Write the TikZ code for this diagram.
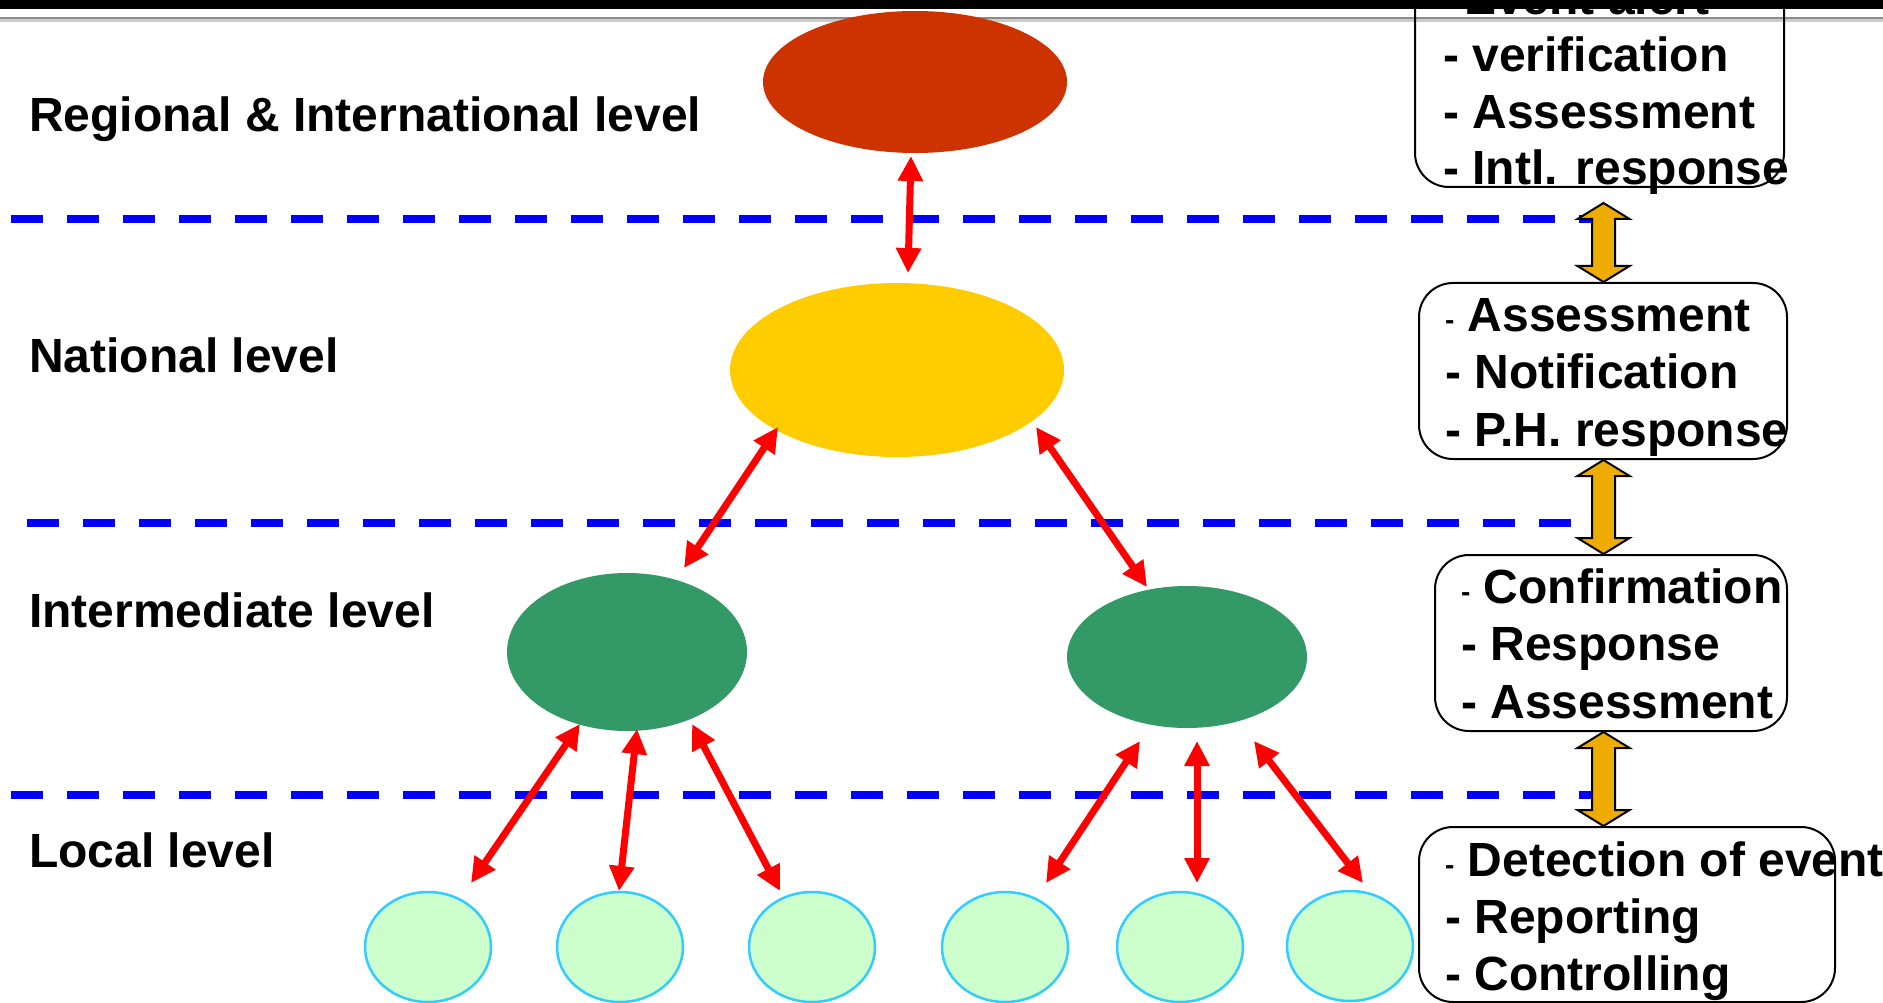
\documentclass[tikz,border=0pt]{standalone}
\usepackage{fontspec}
\setmainfont{Liberation Sans}
\usetikzlibrary{shapes.geometric,arrows.meta}
\definecolor{regred}{RGB}{204,51,0}
\definecolor{natyel}{RGB}{255,204,0}
\definecolor{midgreen}{RGB}{51,153,102}
\definecolor{locfill}{RGB}{204,255,204}
\definecolor{locdraw}{RGB}{51,204,255}
\definecolor{dashblue}{RGB}{0,0,255}
\definecolor{dblorange}{RGB}{238,172,0}
\newcommand\smalldash{{\fontsize{28}{28}\selectfont\raisebox{2pt}{-}}}
\newcommand\orangearrow[3]{%
  \filldraw[fill=dblorange,draw=black,line width=2pt,line join=miter]
    (#1,#2) -- ++(26,16) -- ++(-14.5,0) -- (#1+11.5,#3-16) -- ++(14.5,0)
    -- (#1,#3) -- ++(-26,-16) -- ++(14.5,0) -- (#1-11.5,#2+16) -- ++(-14.5,0) -- cycle;}
\begin{document}
\begin{tikzpicture}[x=1pt,y=-1pt,
  lbl/.style={anchor=base west,inner sep=0pt,font=\fontsize{48}{57}\selectfont\bfseries},
  blob/.style={ellipse,inner sep=0pt,draw=none},
  locblob/.style={ellipse,inner sep=0pt,fill=locfill,draw=locdraw,line width=2.5pt,
    minimum width=126pt,minimum height=110pt},
  infobox/.style={draw=black,line width=2pt,rounded corners=34pt,inner sep=0pt},
  levelline/.style={dashblue,line width=7.5pt,dash pattern=on 32pt off 24pt},
  redarrow/.style={red,line width=7pt,{Triangle[length=25pt,width=24pt]}-{Triangle[length=25pt,width=24pt]}}
]
\useasboundingbox (0,0) rectangle (1883,1003);
\clip (0,0) rectangle (1883,1003);

% slide header shadow line
\fill[black!45] (0,17) rectangle (1883,19.5);
\fill[black!20] (0,19.5) rectangle (1883,22);

% level separators
\draw[levelline] (11,219) -- (1611,219);
\draw[levelline] (27,523) -- (1571,523);
\draw[levelline] (11,795) -- (1611,795);

% level labels
\node[lbl] (lreg) at (29,132) {Regional \& International level};
\node[lbl] (lnat) at (29,372) {National level};
\node[lbl] (lint) at (29,627) {Intermediate level};
\node[lbl] (lloc) at (29,867) {Local level};

% ellipses
\node[blob,fill=regred,minimum width=304pt,minimum height=142pt] (reg) at (915,82) {};
\node[blob,fill=natyel,minimum width=334pt,minimum height=174pt] (nat) at (897,370) {};
\node[blob,fill=midgreen,minimum width=240pt,minimum height=158pt] (int1) at (627,652) {};
\node[blob,fill=midgreen,minimum width=240pt,minimum height=142pt] (int2) at (1187,657) {};
\node[locblob] (loc1) at (428,947) {};
\node[locblob] (loc2) at (620,947) {};
\node[locblob] (loc3) at (812,947) {};
\node[locblob] (loc4) at (1005,947) {};
\node[locblob] (loc5) at (1180,947) {};
\node[locblob] (loc6) at (1350,946) {};

% arrow end points
\coordinate (regS) at (911,156);   \coordinate (natN) at (908,273);
\coordinate (natSW) at (778,427);  \coordinate (int1N) at (684,568);
\coordinate (natSE) at (1036,427); \coordinate (int2N) at (1147,587);
\coordinate (i1a) at (580,724);    \coordinate (l1) at (471,883);
\coordinate (i1b) at (637,729);    \coordinate (l2) at (619,891);
\coordinate (i1c) at (692,724);    \coordinate (l3) at (780,891);
\coordinate (i2a) at (1140,741);   \coordinate (l4) at (1046,883);
\coordinate (i2b) at (1197,741);   \coordinate (l5) at (1197,883);
\coordinate (i2c) at (1254,741);   \coordinate (l6) at (1363,883);

\draw[redarrow] (regS) -- (natN);
\draw[redarrow] (natSW) -- (int1N);
\draw[redarrow] (natSE) -- (int2N);
\draw[redarrow] (i1a) -- (l1);
\draw[redarrow] (i1b) -- (l2);
\draw[redarrow] (i1c) -- (l3);
\draw[redarrow] (i2a) -- (l4);
\draw[redarrow] (i2b) -- (l5);
\draw[redarrow] (i2c) -- (l6);

% right boxes
\node[infobox,minimum width=369pt,minimum height=247pt] (box1) at (1599.5,63.5) {};
\node[infobox,minimum width=368pt,minimum height=176pt] (box2) at (1603,371) {};
\node[infobox,minimum width=352pt,minimum height=176pt] (box3) at (1611,643) {};
\node[infobox,minimum width=416pt,minimum height=175pt] (box4) at (1627,914.5) {};

\node[lbl] (t1a) at (1464,15) {Event alert};
\node[lbl] (t1b) at (1443,72) {- verification};
\node[lbl] (t1c) at (1443,129) {- Assessment};
\node[lbl] (t1d) at (1443,185) {- Intl. response};

\node[lbl] (t2a) at (1445,331) {\smalldash\ Assessment};
\node[lbl] (t2b) at (1445,388) {- Notification};
\node[lbl] (t2c) at (1445,446) {- P.H. response};

\node[lbl] (t3a) at (1461,603) {\smalldash\ Confirmation};
\node[lbl] (t3b) at (1461,660) {- Response};
\node[lbl] (t3c) at (1461,718) {- Assessment};

\node[lbl] (t4a) at (1445,876) {\smalldash\ Detection of event};
\node[lbl] (t4b) at (1445,933) {- Reporting};
\node[lbl] (t4c) at (1445,990) {- Controlling};

% orange double arrows between boxes
\orangearrow{1603.5}{203}{282}
\orangearrow{1603.5}{460}{554}
\orangearrow{1603.5}{732}{826}

% top slide bar
\fill[black] (0,0) rectangle (1883,9.5);
\end{tikzpicture}
\end{document}
